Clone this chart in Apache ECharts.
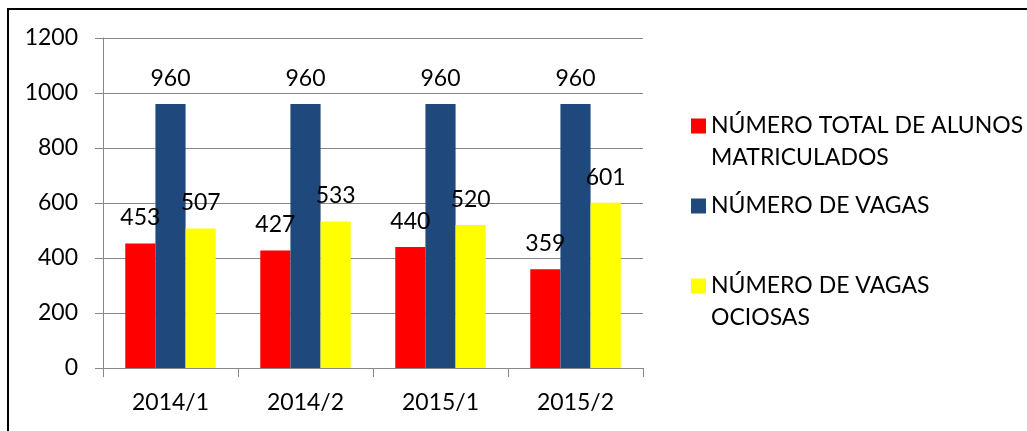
<!DOCTYPE html>
<html lang="pt">
<head>
  <meta charset="UTF-8">
  <title>Alunos e vagas</title>
  <script src="https://cdn.jsdelivr.net/npm/echarts@6/dist/echarts.min.js"></script>
  <style>
    html, body { margin: 0; padding: 0; background: #fff; }
    #chart { width: 1027px; height: 431px; }
  </style>
</head>
<body>
<div id="chart"></div>
<script>
  // dados
  const periodos = ['2014/1', '2014/2', '2015/1', '2015/2'];
  const matriculados = [453, 427, 440, 359];
  const vagas = [960, 960, 960, 960];
  const ociosas = [507, 533, 520, 601];
  const nomes = ['NÚMERO TOTAL DE ALUNOS MATRICULADOS', 'NÚMERO DE VAGAS', 'NÚMERO DE VAGAS OCIOSAS'];
  const rotulos = {
    'NÚMERO TOTAL DE ALUNOS MATRICULADOS': '\nNÚMERO TOTAL DE ALUNOS\nMATRICULADOS',
    'NÚMERO DE VAGAS': 'NÚMERO DE VAGAS',
    'NÚMERO DE VAGAS OCIOSAS': '\nNÚMERO DE VAGAS\nOCIOSAS'
  };
  const cores = ['#ff0000', '#1f497d', '#ffff00'];

  const fonte = 'Lato';
  const tam = 23;
  const grade = '#888888';

  function serie(nome, dados, cor) {
    return {
      name: nome,
      type: 'bar',
      data: dados,
      barGap: '0%',
      barCategoryGap: '33%',
      itemStyle: { color: cor },
      label: {
        show: true,
        position: 'top',
        distance: 14,
        color: '#000',
        fontFamily: fonte,
        fontSize: tam
      }
    };
  }

  const chart = echarts.init(document.getElementById('chart'));
  chart.setOption({
    animation: false,
    color: cores,
    textStyle: { fontFamily: fonte },
    graphic: [{
      type: 'rect',
      shape: { x: 8, y: 9, width: 1100, height: 500 },
      style: { fill: 'none', stroke: '#000', lineWidth: 2 },
      silent: true
    }],
    grid: { left: 103, right: 384, top: 38, bottom: 63 },
    legend: {
      orient: 'vertical',
      left: 686,
      top: 73,
      itemWidth: 15,
      itemHeight: 15,
      itemGap: 16,
      icon: 'rect',
      data: nomes,
      formatter: function (name) { return rotulos[name]; },
      textStyle: { fontFamily: fonte, fontSize: tam, color: '#000', lineHeight: 32 }
    },
    xAxis: {
      type: 'category',
      data: periodos,
      axisLine: { lineStyle: { color: grade, width: 1 } },
      axisTick: { show: true, length: 9, lineStyle: { color: grade } },
      axisLabel: { color: '#000', fontSize: tam, fontFamily: fonte, margin: 23 }
    },
    yAxis: {
      type: 'value',
      min: 0,
      max: 1200,
      interval: 200,
      axisLine: { show: true, lineStyle: { color: grade, width: 1 } },
      axisTick: { show: true, length: 8, lineStyle: { color: grade } },
      axisLabel: {
        color: '#000', fontSize: tam, fontFamily: fonte, margin: 25,
        formatter: function (v) { return String(v); }
      },
      splitLine: { lineStyle: { color: grade, width: 1 } }
    },
    series: [
      serie(nomes[0], matriculados, cores[0]),
      serie(nomes[1], vagas, cores[1]),
      serie(nomes[2], ociosas, cores[2])
    ]
  });
</script>
</body>
</html>
